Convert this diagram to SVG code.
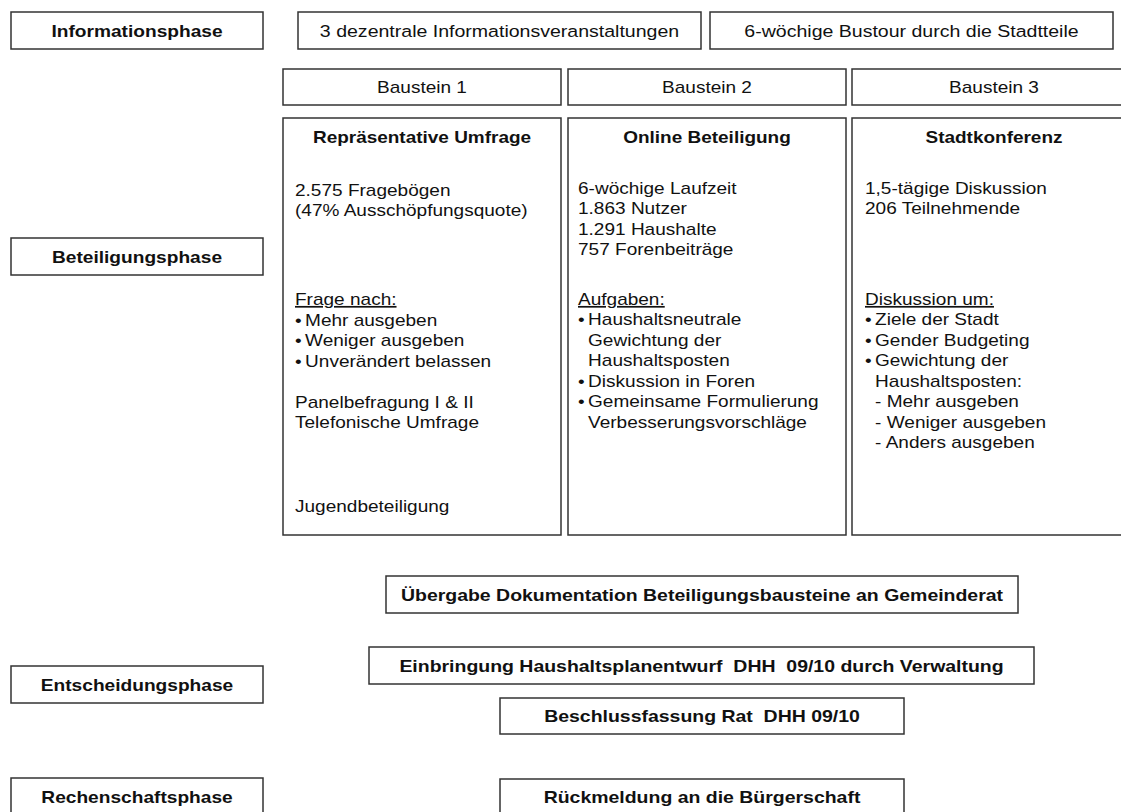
<svg xmlns="http://www.w3.org/2000/svg" width="1121" height="812" viewBox="0 0 1121 812">
<style>
.box{fill:#fff;stroke:#333;stroke-width:1.5}
.t{font-family:"Liberation Sans",Arial,sans-serif;font-size:17px;fill:#111}
.b{font-family:"Liberation Sans",Arial,sans-serif;font-size:16.5px;font-weight:bold;fill:#111}
.c{text-anchor:middle}
.u{text-decoration:underline}
.pre{white-space:pre}
</style>
<rect width="1121" height="812" fill="#fff"/>
<g id="connectors"/>
<g id="informationsphase"><rect class="box" x="11" y="12" width="252" height="37"/><text class="b c" transform="translate(137,36.5) scale(1.16,1)">Informationsphase</text></g>
<g id="info-veranstaltungen"><rect class="box" x="298" y="12" width="403" height="37"/><text class="t c" transform="translate(499.5,37) scale(1.15,1)">3 dezentrale Informationsveranstaltungen</text></g>
<g id="info-bustour"><rect class="box" x="710" y="12" width="403" height="37"/><text class="t c" transform="translate(911.5,37) scale(1.15,1)">6-wöchige Bustour durch die Stadtteile</text></g>
<g id="baustein1"><rect class="box" x="283" y="69" width="278" height="36"/><text class="t c" transform="translate(422,93) scale(1.12,1)">Baustein 1</text></g>
<g id="baustein2"><rect class="box" x="568" y="69" width="278" height="36"/><text class="t c" transform="translate(707,93) scale(1.12,1)">Baustein 2</text></g>
<g id="baustein3"><rect class="box" x="852" y="69" width="290" height="36"/><text class="t c" transform="translate(994,93) scale(1.12,1)">Baustein 3</text></g>
<g id="beteiligungsphase"><rect class="box" x="11" y="238" width="252" height="37"/><text class="b c" transform="translate(137,262.5) scale(1.16,1)">Beteiligungsphase</text></g>
<g id="umfrage">
<rect class="box" x="283" y="118" width="278" height="417"/>
<text class="b c" transform="translate(422,143) scale(1.15,1)">Repräsentative Umfrage</text>
<g transform="translate(295,0) scale(1.12,1)">
<text class="t" x="0" y="196">2.575 Fragebögen</text>
<text class="t" x="0" y="216.5">(47% Ausschöpfungsquote)</text>
<text class="t u" x="0" y="305">Frage nach:</text>
<text class="t" x="0" y="326">•<tspan x="9">Mehr ausgeben</tspan></text>
<text class="t" x="0" y="346.5">•<tspan x="9">Weniger ausgeben</tspan></text>
<text class="t" x="0" y="367">•<tspan x="9">Unverändert belassen</tspan></text>
<text class="t" x="0" y="408">Panelbefragung I &amp; II</text>
<text class="t" x="0" y="428.5">Telefonische Umfrage</text>
<text class="t" x="0" y="512">Jugendbeteiligung</text>
</g>
</g>
<g id="online">
<rect class="box" x="568" y="118" width="278" height="417"/>
<text class="b c" transform="translate(707,143) scale(1.15,1)">Online Beteiligung</text>
<g transform="translate(578,0) scale(1.12,1)">
<text class="t" x="0" y="194">6-wöchige Laufzeit</text>
<text class="t" x="0" y="214.5">1.863 Nutzer</text>
<text class="t" x="0" y="235">1.291 Haushalte</text>
<text class="t" x="0" y="255.5">757 Forenbeiträge</text>
<text class="t u" x="0" y="305">Aufgaben:</text>
<text class="t" x="0" y="325.5">•<tspan x="9">Haushaltsneutrale</tspan></text>
<text class="t" x="9" y="346">Gewichtung der</text>
<text class="t" x="9" y="366.5">Haushaltsposten</text>
<text class="t" x="0" y="387">•<tspan x="9">Diskussion in Foren</tspan></text>
<text class="t" x="0" y="407.5">•<tspan x="9">Gemeinsame Formulierung</tspan></text>
<text class="t" x="9" y="428">Verbesserungsvorschläge</text>
</g>
</g>
<g id="stadtkonferenz">
<rect class="box" x="852" y="118" width="290" height="417"/>
<text class="b c" transform="translate(994,143) scale(1.15,1)">Stadtkonferenz</text>
<g transform="translate(865,0) scale(1.12,1)">
<text class="t" x="0" y="194">1,5-tägige Diskussion</text>
<text class="t" x="0" y="214.5">206 Teilnehmende</text>
<text class="t u" x="0" y="305">Diskussion um:</text>
<text class="t" x="0" y="325.5">•<tspan x="9">Ziele der Stadt</tspan></text>
<text class="t" x="0" y="346">•<tspan x="9">Gender Budgeting</tspan></text>
<text class="t" x="0" y="366.5">•<tspan x="9">Gewichtung der</tspan></text>
<text class="t" x="9" y="387">Haushaltsposten:</text>
<text class="t" x="9" y="407.5">- Mehr ausgeben</text>
<text class="t" x="9" y="428">- Weniger ausgeben</text>
<text class="t" x="9" y="448.5">- Anders ausgeben</text>
</g>
</g>
<g id="uebergabe"><rect class="box" x="386" y="576" width="632" height="37"/><text class="b c" transform="translate(702,600.5) scale(1.18,1)">Übergabe Dokumentation Beteiligungsbausteine an Gemeinderat</text></g>
<g id="entscheidungsphase"><rect class="box" x="11" y="666" width="252" height="37"/><text class="b c" transform="translate(137,690.5) scale(1.16,1)">Entscheidungsphase</text></g>
<g id="einbringung"><rect class="box" x="369" y="647" width="665" height="37"/><text class="b c pre" xml:space="preserve" transform="translate(701.5,671.5) scale(1.18,1)">Einbringung Haushaltsplanentwurf  DHH  09/10 durch Verwaltung</text></g>
<g id="beschluss"><rect class="box" x="500" y="698" width="404" height="36"/><text class="b c pre" xml:space="preserve" transform="translate(702,722) scale(1.18,1)">Beschlussfassung Rat  DHH 09/10</text></g>
<g id="rechenschaftsphase"><rect class="box" x="11" y="778" width="252" height="40"/><text class="b c" transform="translate(137,802.5) scale(1.16,1)">Rechenschaftsphase</text></g>
<g id="rueckmeldung"><rect class="box" x="500" y="779" width="404" height="40"/><text class="b c" transform="translate(702,803) scale(1.18,1)">Rückmeldung an die Bürgerschaft</text></g>
</svg>
